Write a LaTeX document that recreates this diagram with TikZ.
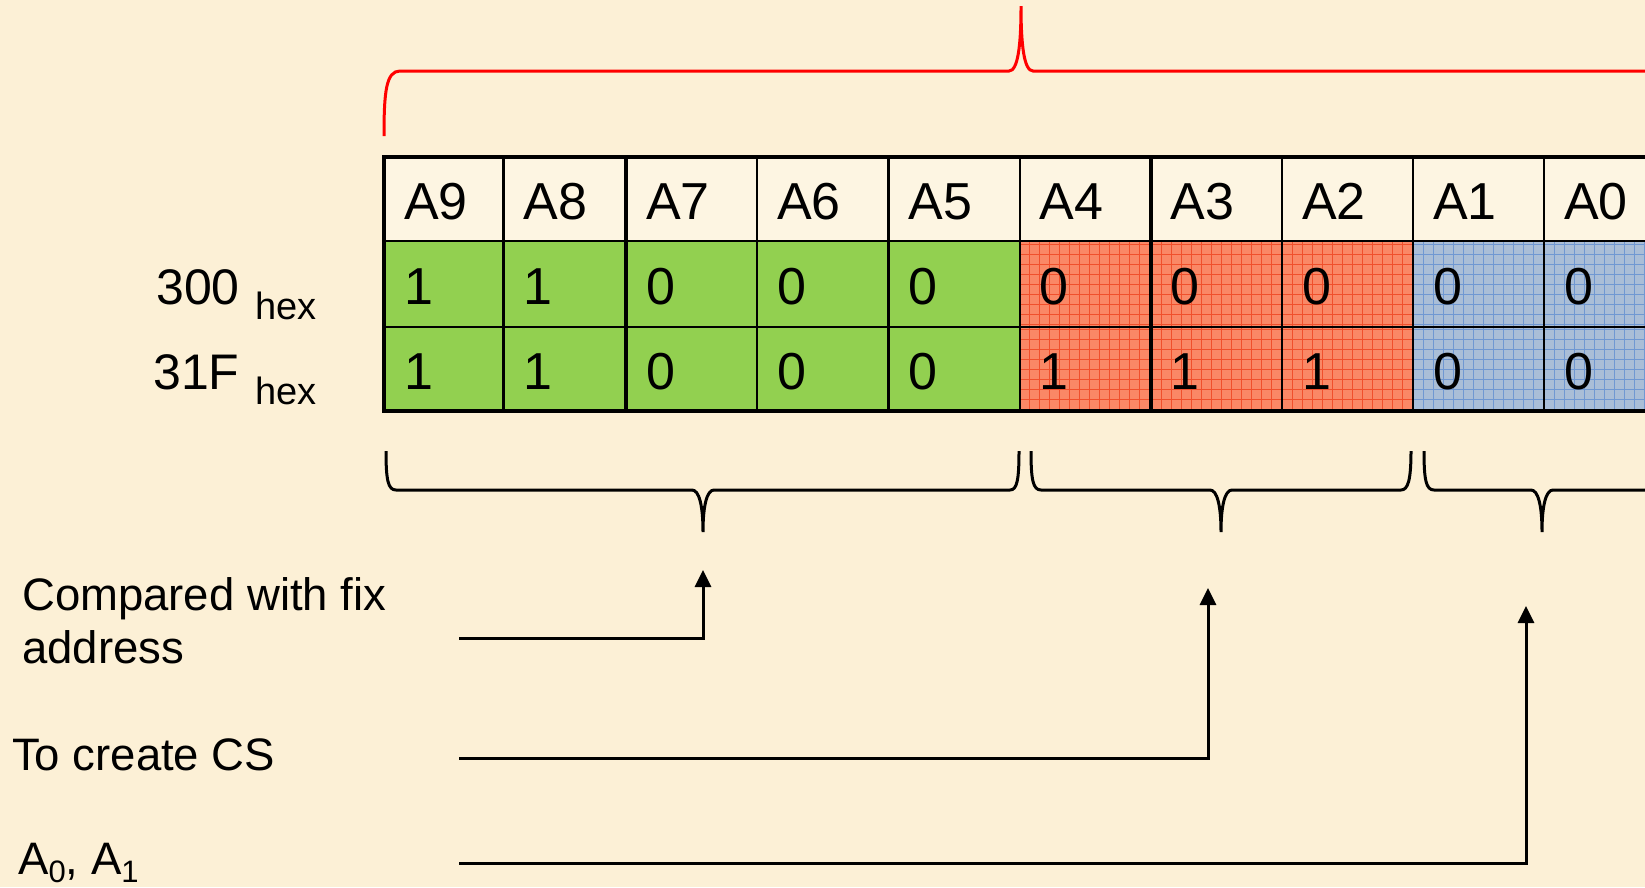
\documentclass[tikz,border=0pt]{standalone}
\usepackage{fontspec}
\setmainfont{Liberation Sans}
\usetikzlibrary{arrows.meta}
\definecolor{bgpaper}{HTML}{FCF0D6}
\definecolor{hdrfill}{HTML}{FDF5E2}
\definecolor{grnfill}{HTML}{92D050}
\definecolor{redfill}{HTML}{FA8866}
\definecolor{redgrid}{HTML}{F0502C}
\definecolor{bluefill}{HTML}{AABED7}
\definecolor{bluegrid}{HTML}{7098D2}
\definecolor{bracered}{HTML}{FF0000}
\newcommand\cellfont{\fontsize{52}{60}\selectfont}
\newcommand\lblfont{\fontsize{45.5}{53}\selectfont}
\newcommand\hexfont{\fontsize{38}{40}\selectfont}
\newcommand\subfnt{\fontsize{31}{33}\selectfont}
\tikzset{
  cellbox/.style={draw=black, line width=2.2pt, anchor=north west, outer sep=0pt,
    inner xsep=20pt, inner ysep=0pt, align=left, font=\cellfont, text=black,
    text height=41pt, text depth=0pt},
  hdrcell/.style={cellbox, fill=hdrfill},
  grncell/.style={cellbox, fill=grnfill},
  redcell/.style={cellbox, fill=redfill, path picture={
      \draw[redgrid, line width=0.55pt] (path picture bounding box.south west)
        grid[step=10pt] (path picture bounding box.north east);}},
  bluecell/.style={cellbox, fill=bluefill, path picture={
      \draw[bluegrid, line width=0.55pt] (path picture bounding box.south west)
        grid[step=10pt] (path picture bounding box.north east);}},
  thickline/.style={draw=black, line width=4.6pt, line join=miter},
  redbrace/.style={draw=bracered, line width=3pt},
  blackbrace/.style={draw=black, line width=3pt},
  arrowline/.style={draw=black, line width=3pt, -{Triangle[length=17pt,width=16pt]}},
  lbl/.style={anchor=base west, inner sep=0pt, font=\lblfont, align=left, text=black},
}
\begin{document}
\begin{tikzpicture}[x=1pt,y=-1pt]
\useasboundingbox (0,0) rectangle (1645,887);
\fill[bgpaper] (0,0) rectangle (1645,887);
\clip (0,0) rectangle (1645,887);

% header row
\foreach \nm/\xl/\xr in {9/384/503.5, 8/503.5/626, 7/626/757, 6/757/888.5, 5/888.5/1019.6,
                          4/1019.6/1150.8, 3/1150.8/1282, 2/1282/1413, 1/1413/1544, 0/1544/1675}{
  \pgfmathsetmacro\cw{\xr-\xl}
  \pgfmathsetmacro\tw{\xr-\xl-40}
  \node[hdrcell, minimum width=\cw pt, text width=\tw pt, minimum height=84pt] (h\nm) at (\xl,157) {A\nm};
}
% green cells
\foreach \nm/\xl/\xr/\va/\vb in {9/384/503.5/1/1, 8/503.5/626/1/1, 7/626/757/0/0, 6/757/888.5/0/0, 5/888.5/1019.6/0/0}{
  \pgfmathsetmacro\cw{\xr-\xl}
  \pgfmathsetmacro\tw{\xr-\xl-40}
  \node[grncell, minimum width=\cw pt, text width=\tw pt, minimum height=86pt] (ra\nm) at (\xl,241) {\va};
  \node[grncell, minimum width=\cw pt, text width=\tw pt, minimum height=84pt] (rb\nm) at (\xl,327) {\vb};
}
% red cells
\foreach \nm/\xl/\xr/\va/\vb in {4/1019.6/1150.8/0/1, 3/1150.8/1282/0/1, 2/1282/1413/0/1}{
  \pgfmathsetmacro\cw{\xr-\xl}
  \pgfmathsetmacro\tw{\xr-\xl-40}
  \node[redcell, minimum width=\cw pt, text width=\tw pt, minimum height=86pt] (ra\nm) at (\xl,241) {\va};
  \node[redcell, minimum width=\cw pt, text width=\tw pt, minimum height=84pt] (rb\nm) at (\xl,327) {\vb};
}
% blue cells
\foreach \nm/\xl/\xr/\va/\vb in {1/1413/1544/0/0, 0/1544/1675/0/0}{
  \pgfmathsetmacro\cw{\xr-\xl}
  \pgfmathsetmacro\tw{\xr-\xl-40}
  \node[bluecell, minimum width=\cw pt, text width=\tw pt, minimum height=86pt] (ra\nm) at (\xl,241) {\va};
  \node[bluecell, minimum width=\cw pt, text width=\tw pt, minimum height=84pt] (rb\nm) at (\xl,327) {\vb};
}
% thick frame lines
\draw[thickline] (h0.north east) -- (h9.north west) -- (rb9.south west) -- (rb0.south east);
\draw[thickline] (h7.north west) -- (rb7.south west);
\draw[thickline] (h3.north west) -- (rb3.south west);

% red brace (top)
\draw[redbrace] (384,136) .. controls (384,92) and (386,71) .. (400,71) -- (1009,71)
   .. controls (1018,71) and (1021,45) .. (1021,6)
   .. controls (1021,45) and (1024,71) .. (1033,71) -- (1660,71);

% lower braces
\draw[blackbrace] (386,451) .. controls (386,480) and (388,490) .. (396,490) -- (692,490)
   .. controls (699,490) and (703,505) .. (703,532)
   .. controls (703,505) and (707,490) .. (714,490) -- (1010,490)
   .. controls (1017,490) and (1019,480) .. (1019,451);
\draw[blackbrace] (1031,451) .. controls (1031,480) and (1033,490) .. (1041,490) -- (1210,490)
   .. controls (1217,490) and (1221,505) .. (1221,532)
   .. controls (1221,505) and (1225,490) .. (1232,490) -- (1401,490)
   .. controls (1408,490) and (1411,480) .. (1411,451);
\draw[blackbrace] (1424,451) .. controls (1424,480) and (1426,490) .. (1434,490) -- (1531,490)
   .. controls (1538,490) and (1542,505) .. (1542,532)
   .. controls (1542,505) and (1546,490) .. (1553,490) -- (1660,490);

% row labels
\node[anchor=base west, inner sep=0pt, text=black] (v300) at (156,304)
  {\fontsize{50}{60}\selectfont 300\hspace{16pt}\raisebox{-15pt}{\hexfont hex}};
\node[anchor=base west, inner sep=0pt, text=black] (v31f) at (153,389)
  {\fontsize{50}{60}\selectfont 31F\hspace{16pt}\raisebox{-15pt}{\hexfont hex}};

% left labels
\node[lbl] (cmp) at (22,663) {Compared with fix\\address};
\node[lbl] (mkcs) at (12,770) {To create CS};
\node[lbl] (a01) at (18,874) {A\raisebox{-8pt}{\subfnt 0}, A\raisebox{-8pt}{\subfnt 1}};

% arrows
\coordinate (s1) at (459,638);
\coordinate (e1) at (703,570);
\coordinate (s2) at (459,758);
\coordinate (e2) at (1208,588);
\coordinate (s3) at (459,863);
\coordinate (e3) at (1526,606);
\draw[arrowline] (s1) -| (e1);
\draw[arrowline] (s2) -| (e2);
\draw[arrowline] (s3) -| (e3);
\end{tikzpicture}
\end{document}
